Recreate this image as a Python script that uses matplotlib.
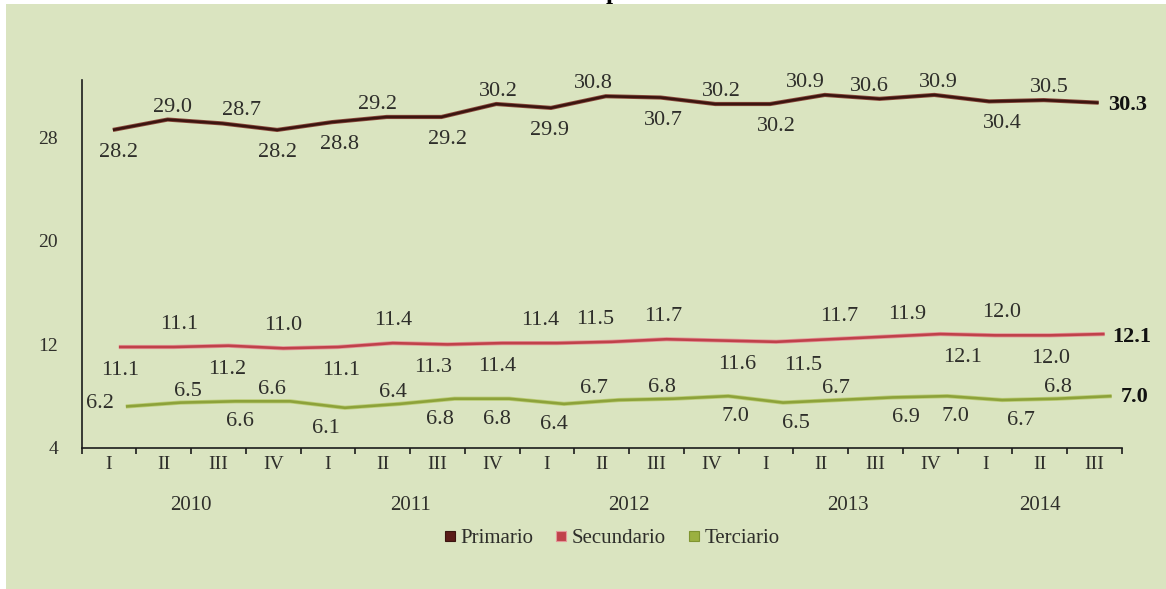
import numpy as np
import matplotlib
matplotlib.use("Agg")
import matplotlib.pyplot as plt
from matplotlib.transforms import ScaledTranslation
from matplotlib.lines import Line2D
from matplotlib.patches import Rectangle

# ---- data -------------------------------------------------------------
quarters = ["I", "II", "III", "IV"] * 4 + ["I", "II", "III"]
years = ["2010", "2011", "2012", "2013", "2014"]
year_sizes = [4, 4, 4, 4, 3]
series_names = ["Primario", "Secundario", "Terciario"]

primario = [28.2, 29.0, 28.7, 28.2, 28.8, 29.2, 29.2, 30.2, 29.9, 30.8,
            30.7, 30.2, 30.2, 30.9, 30.6, 30.9, 30.4, 30.5, 30.3]
secundario = [11.1, 11.1, 11.2, 11.0, 11.1, 11.4, 11.3, 11.4, 11.4, 11.5,
              11.7, 11.6, 11.5, 11.7, 11.9, 12.1, 12.0, 12.0, 12.1]
terciario = [6.2, 6.5, 6.6, 6.6, 6.1, 6.4, 6.8, 6.8, 6.4, 6.7,
             6.8, 7.0, 6.5, 6.7, 6.9, 7.0, 6.7, 6.8, 7.0]

y_ticks = [4, 12, 20, 28]

# ---- label placement (a = above, b = below, l = left, e = end) -------
prim_side = ["b", "a", "a", "b", "b", "a", "b", "a", "b", "a",
             "b", "a", "b", "a", "a", "a", "b", "a", "e"]
prim_dx = [10, 9, 23, 4, 12, -5, 10, 6, 3, -8, 7, 10, 10, -15, -6, 8, 17, 10, 0]

sec_side = ["b", "a", "b", "a", "b", "a", "b", "b", "a", "a",
            "a", "b", "b", "a", "a", "b", "a", "b", "e"]
sec_dx = [11, 16, 9, 10, 13, 10, -4, 5, -7, -7, 7, 26, 37, 18, 32, 32, 17, 11, 0]

ter_side = ["l", "a", "b", "a", "b", "a", "b", "b", "b", "a",
            "a", "b", "b", "a", "b", "b", "b", "a", "e"]
ter_dx = [-9, 24, 22, -1, -2, 10, 2, 5, 7, -8, 5, 24, 30, 15, 30, 25, 36, 18, 0]

# ---- figure ----------------------------------------------------------
W, H = 1166, 589
DPI = 100
BG = "#dae4c0"
TXT = "#2e2e2a"
SERIF = "Liberation Serif"
PT = 72.0 / DPI  # points per pixel

fig = plt.figure(figsize=(W / DPI, H / DPI), dpi=DPI)
fig.patch.set_facecolor("white")
fig.patches.append(Rectangle((6 / W, 0), 1 - 6 / W, 1 - 4 / H,
                             transform=fig.transFigure, facecolor=BG,
                             edgecolor="none", zorder=-5))

ax = fig.add_axes([81.5 / W, 1 - 448 / H, (1122 - 81.5) / W, 368 / H])
ax.set_facecolor("none")

n = len(quarters)
x = np.arange(n)
ax.set_xlim(-0.5, n - 0.5)
ax.set_ylim(4, 32.4)

for s in ["top", "right"]:
    ax.spines[s].set_visible(False)
for s in ["left", "bottom"]:
    ax.spines[s].set_color("#1c1c1c")
    ax.spines[s].set_linewidth(1.2)

ax.set_yticks(y_ticks)
ax.set_yticklabels([str(t) for t in y_ticks], fontsize=14, family=SERIF, color=TXT)
ax.tick_params(axis="y", length=0, pad=17)

ax.set_xticks(x)
ax.set_xticklabels(quarters, fontsize=14, family=SERIF, color=TXT)
ax.set_xticks(np.arange(n + 1) - 0.5, minor=True)
ax.tick_params(axis="x", which="major", length=0, pad=5.5)
ax.tick_params(axis="x", which="minor", length=4, width=1.2, color="#1c1c1c",
               direction="out")

# year labels under each group of quarters
start = 0
for yr, size in zip(years, year_sizes):
    center = start + (size - 1) / 2
    ax.annotate(yr, xy=(center, 0), xycoords=("data", "axes fraction"),
                xytext=(0, -57 * PT), textcoords="offset points",
                ha="center", va="center", fontsize=15, family=SERIF, color=TXT)
    start += size

# values, label sides, label x-offsets, line colour, ribbon edge colour,
# depth shift (px right, px up), gap above, gap below, end-label offset
series = [
    (primario, prim_side, prim_dx, "#3b1510", "#8b4a3c", (4, 4.5), 8, 12, (10, 2)),
    (secundario, sec_side, sec_dx, "#c0414a", "#e4979a", (10, 9), 18, 13, (8, 3)),
    (terciario, ter_side, ter_dx, "#8da23a", "#bccd76", (17, 13), 7, 10, (9, 1)),
]

DIGIT_H = 15  # px height of label digits

for vals, sides, dxs, col, edge, (sx, sy), gap_a, gap_b, (ex, ey) in series:
    tr = ax.transData + ScaledTranslation(sx / DPI, sy / DPI, fig.dpi_scale_trans)
    ax.plot(x, vals, color=edge, lw=4.2 * PT, transform=tr,
            solid_joinstyle="round", solid_capstyle="butt", zorder=3)
    ax.plot(x, vals, color=col, lw=2.6 * PT, transform=tr,
            solid_joinstyle="round", solid_capstyle="butt", zorder=4)
    for i, (v, side, dx) in enumerate(zip(vals, sides, dxs)):
        txt = f"{v:.1f}"
        if side == "e":
            ax.annotate(txt, xy=(i, v), xycoords=tr,
                        xytext=(ex * PT, -ey * PT), textcoords="offset points",
                        ha="left", va="center", fontsize=16, family=SERIF,
                        fontweight="bold", color="#111111", annotation_clip=False)
            continue
        if side == "a":
            off = (dx - sx, gap_a)
            va = "baseline"
        elif side == "b":
            off = (dx - sx, -(gap_b + DIGIT_H))
            va = "baseline"
        else:
            off = (dx - sx, 3)
            va = "center"
        ax.annotate(txt, xy=(i, v), xycoords=tr,
                    xytext=(off[0] * PT, off[1] * PT), textcoords="offset points",
                    ha="center", va=va, fontsize=16, family=SERIF, color=TXT,
                    annotation_clip=False)

# legend
handles = [Line2D([], [], linestyle="none", marker="s", markersize=6.5,
                  markerfacecolor=c, markeredgecolor=e, markeredgewidth=0.8)
           for c, e in [("#5a1c18", "#3b1510"), ("#c0414a", "#e4979a"),
                        ("#9bb040", "#7f9430")]]
leg = fig.legend(handles, series_names, loc="center",
                 bbox_to_anchor=(611 / W, 1 - 538 / H), ncol=3, frameon=False,
                 handlelength=0.7, handletextpad=0.15, columnspacing=1.0,
                 prop={"family": SERIF, "size": 15})
for t in leg.get_texts():
    t.set_color(TXT)

# title (sits above the panel)
fig.text(613 / W, 1 + 1 / H, "p", ha="center", va="baseline", fontsize=18,
         fontweight="bold", family=SERIF, color="black")

fig.savefig("out.png", dpi=DPI, facecolor=fig.get_facecolor())
